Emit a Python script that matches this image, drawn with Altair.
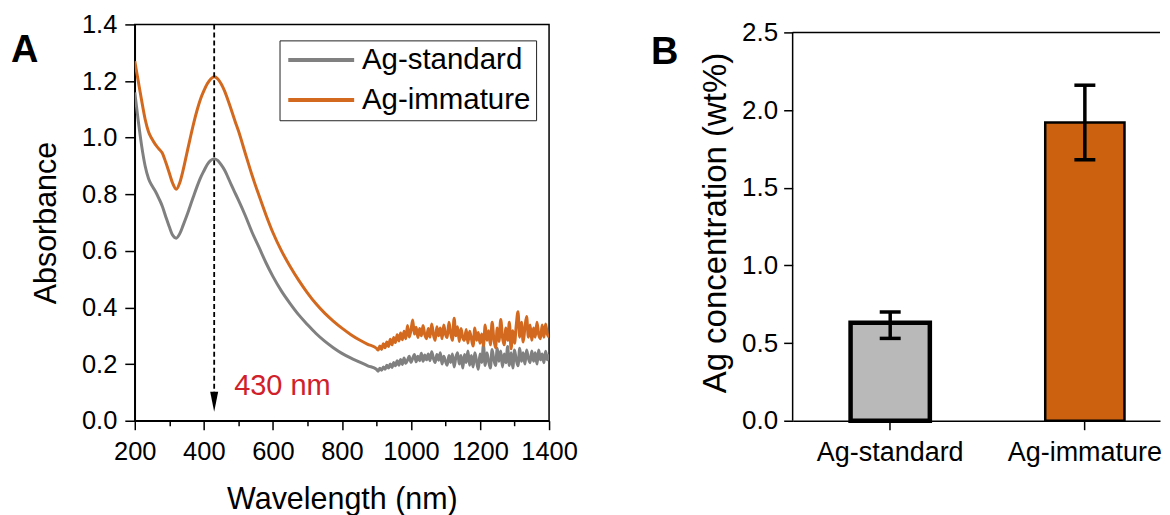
import altair as alt
import pandas as pd

FONT = "Liberation Sans"

# ---------------- Panel A data ----------------
series_names = ["Ag-standard", "Ag-immature"]
line_colors = ["#808080", "#d2691e"]

wl_smooth = [200, 210, 220, 230, 240, 250, 260, 270, 280, 290, 300, 310, 320, 330,
             340, 350, 360, 370, 380, 390, 400, 410, 420, 430, 440, 450, 460, 470,
             480, 490, 500, 520, 540, 560, 580, 600, 625, 650, 675, 700, 725, 750,
             775, 800, 825, 850, 875, 900]
std_smooth = [1.16, 1.06, 0.97, 0.90, 0.855, 0.83, 0.81, 0.785, 0.757, 0.72, 0.685,
              0.655, 0.645, 0.66, 0.69, 0.722, 0.757, 0.792, 0.826, 0.857, 0.882,
              0.905, 0.92, 0.925, 0.92, 0.905, 0.886, 0.86, 0.832, 0.806, 0.78, 0.725,
              0.665, 0.612, 0.558, 0.51, 0.458, 0.414, 0.374, 0.34, 0.308, 0.281,
              0.258, 0.238, 0.222, 0.208, 0.194, 0.182]
imm_smooth = [1.27, 1.2, 1.13, 1.065, 1.02, 0.995, 0.975, 0.96, 0.945, 0.912, 0.875,
              0.838, 0.818, 0.84, 0.885, 0.94, 0.995, 1.048, 1.095, 1.135, 1.165,
              1.19, 1.207, 1.215, 1.208, 1.19, 1.165, 1.132, 1.097, 1.06, 1.025, 0.945,
              0.866, 0.795, 0.727, 0.665, 0.6, 0.545, 0.496, 0.452, 0.413, 0.38,
              0.352, 0.327, 0.305, 0.286, 0.27, 0.256]

wl_noisy = list(range(905, 1401, 5))
std_noisy = [
    0.175, 0.185, 0.178, 0.19, 0.182, 0.196, 0.186, 0.2, 0.188, 0.206,
    0.194, 0.212, 0.196, 0.216, 0.199, 0.222, 0.203, 0.214, 0.228, 0.206,
    0.22, 0.234, 0.208, 0.228, 0.212, 0.238, 0.21, 0.232, 0.215, 0.236,
    0.212, 0.244, 0.22, 0.206, 0.234, 0.214, 0.24, 0.2, 0.228, 0.21,
    0.196, 0.23, 0.206, 0.236, 0.19, 0.224, 0.24, 0.2, 0.23, 0.186,
    0.234, 0.206, 0.246, 0.196, 0.23, 0.19, 0.24, 0.21, 0.182, 0.236,
    0.206, 0.268, 0.195, 0.24, 0.21, 0.186, 0.252, 0.216, 0.195, 0.256,
    0.21, 0.246, 0.19, 0.236, 0.205, 0.262, 0.195, 0.24, 0.186, 0.25,
    0.215, 0.194, 0.256, 0.21, 0.24, 0.2, 0.25, 0.22, 0.205, 0.246,
    0.21, 0.24, 0.2, 0.25, 0.215, 0.236, 0.205, 0.245, 0.215, 0.235]
imm_noisy = [
    0.25, 0.264, 0.252, 0.272, 0.258, 0.278, 0.262, 0.288, 0.268, 0.294,
    0.276, 0.304, 0.282, 0.31, 0.286, 0.316, 0.29, 0.336, 0.296, 0.32,
    0.356, 0.306, 0.33, 0.294, 0.326, 0.3, 0.336, 0.304, 0.29, 0.326,
    0.295, 0.342, 0.304, 0.284, 0.332, 0.3, 0.328, 0.29, 0.338, 0.305,
    0.294, 0.348, 0.31, 0.284, 0.362, 0.3, 0.332, 0.28, 0.326, 0.294,
    0.284, 0.322, 0.274, 0.316, 0.29, 0.264, 0.328, 0.284, 0.312, 0.274,
    0.306, 0.264, 0.338, 0.284, 0.318, 0.268, 0.348, 0.29, 0.258, 0.328,
    0.28, 0.358, 0.295, 0.268, 0.328, 0.284, 0.348, 0.254, 0.318, 0.274,
    0.338, 0.385, 0.295, 0.348, 0.278, 0.328, 0.368, 0.295, 0.338, 0.284,
    0.328, 0.295, 0.348, 0.304, 0.29, 0.338, 0.295, 0.342, 0.305, 0.296]

peak_nm = [430]
peak_label = ["430 nm"]

x_ticks_A = list(range(200, 1401, 100))
y_ticks_A = [round(i * 0.1, 1) for i in range(15)]

# ---------------- Panel B data ----------------
samples = ["Ag-standard", "Ag-immature"]
conc = [0.63, 1.92]
conc_lo = [0.53, 1.68]
conc_hi = [0.70, 2.16]
bar_colors = ["#b9b9b9", "#cc6210"]
y_ticks_B = [i * 0.25 for i in range(11)]

# ---------------- build tables ----------------
rows = []
for name, smooth, noisy in [(series_names[0], std_smooth, std_noisy),
                            (series_names[1], imm_smooth, imm_noisy)]:
    for w, v in zip(wl_smooth + wl_noisy, smooth + noisy):
        rows.append({"series": name, "wl": w, "abs": v})
dfA = pd.DataFrame(rows)
dfPeak = pd.DataFrame({"wl": peak_nm, "label": peak_label})
dfB = pd.DataFrame({"sample": samples, "conc": conc, "lo": conc_lo, "hi": conc_hi})

# ---------------- Panel A ----------------
xA = alt.Axis(title="Wavelength (nm)", values=x_ticks_A, format="d",
              labelExpr="datum.value % 200 == 0 ? datum.label : ''",
              tickSize={"condition": {"test": "datum.value % 200 != 0", "value": 5}, "value": 9},
              labelFontSize=25.5, titleFontSize=30.5, labelPadding=10, titlePadding=19,
              labelFlush=False, labelOverlap=False)
yA = alt.Axis(title="Absorbance", values=y_ticks_A, format=".1f",
              labelExpr="round(datum.value * 10) % 2 == 0 ? datum.label : ''",
              tickSize={"condition": {"test": "round(datum.value * 10) % 2 != 0", "value": 5}, "value": 10},
              labelFontSize=25.5, titleFontSize=30.5, labelPadding=8, titlePadding=20,
              labelFlush=False, labelOverlap=False)
xscA = alt.Scale(domain=[200, 1400], nice=False, zero=False)
yscA = alt.Scale(domain=[0, 1.4], nice=False)

lines = alt.Chart(dfA).mark_line(strokeWidth=3, interpolate="monotone", clip=True).encode(
    x=alt.X("wl:Q", scale=xscA, axis=xA),
    y=alt.Y("abs:Q", scale=yscA, axis=yA),
    color=alt.Color("series:N", sort=series_names,
                    scale=alt.Scale(domain=series_names, range=line_colors),
                    legend=alt.Legend(title=None, orient="none", legendX=145, legendY=16,
                                      direction="vertical", fillColor="white",
                                      strokeColor="#222222", padding=5,
                                      labelFont=FONT, labelFontSize=29.5, labelColor="black",
                                      symbolType="M-1,0H5", symbolSize=484,
                                      symbolStrokeWidth=4, labelOffset=48, rowPadding=9,
                                      labelLimit=400)),
)

dash = alt.Chart(dfPeak).mark_rule(strokeDash=[5, 3], strokeWidth=1.8, color="black").encode(
    x=alt.X("wl:Q", scale=xscA, axis=xA),
    y=alt.datum(1.4), y2=alt.datum(0.09),
)
head = alt.Chart(dfPeak).mark_point(shape="M-0.4,-1L0.4,-1L0,1Z", size=400, filled=True,
                                    color="black", opacity=1).encode(
    x=alt.X("wl:Q", scale=xscA, axis=xA),
    y=alt.datum(0.067),
)
ann = alt.Chart(dfPeak).mark_text(align="left", baseline="alphabetic", dx=20, font=FONT,
                                  fontSize=29, color="#d0202a").encode(
    x=alt.X("wl:Q", scale=xscA, axis=xA),
    y=alt.datum(0.092),
    text="label:N",
)
tagA = alt.Chart(pd.DataFrame({"t": ["A"]})).mark_text(
    align="left", baseline="alphabetic", font=FONT, fontSize=38, fontWeight="bold",
    color="black").encode(x=alt.value(-124), y=alt.value(38), text="t:N")

panelA = alt.layer(lines, dash, head, ann, tagA).properties(
    width=415, height=397,
    view=alt.ViewBackground(stroke="black", strokeWidth=1.5),
)

# ---------------- Panel B ----------------
yB = alt.Axis(title="Ag concentration (wt%)", values=y_ticks_B, format=".1f",
              labelExpr="round(datum.value * 4) % 2 == 0 ? datum.label : ''",
              tickSize={"condition": {"test": "round(datum.value * 4) % 2 != 0", "value": 5}, "value": 9},
              domain=False, labelFontSize=26, titleFontSize=33, labelPadding=6,
              titlePadding=9, labelFlush=False, labelOverlap=False)
yscB = alt.Scale(domain=[0, 2.5 * 397 / 389], nice=False)
xB = alt.X("sample:N", sort=samples,
           scale=alt.Scale(paddingInner=0.5928, paddingOuter=0.24, align=0.62),
           axis=alt.Axis(title=None, labelAngle=0, labelFontSize=27, tickSize=9,
                         labelPadding=10))

bars = alt.Chart(dfB).mark_bar(stroke="black").encode(
    x=xB,
    y=alt.Y("conc:Q", scale=yscB, axis=yB),
    fill=alt.Fill("sample:N", scale=alt.Scale(domain=samples, range=bar_colors), legend=None),
    strokeWidth=alt.condition(alt.datum.sample == "Ag-standard", alt.value(4.5), alt.value(2.5)),
)
err = alt.Chart(dfB).mark_rule(strokeWidth=3.5, color="black").encode(
    x=xB, y=alt.Y("lo:Q", scale=yscB, axis=yB), y2="hi:Q")
cap_hi = alt.Chart(dfB).mark_tick(thickness=3.5, size=21, color="black", opacity=1).encode(
    x=xB, y=alt.Y("hi:Q", scale=yscB, axis=yB))
cap_lo = alt.Chart(dfB).mark_tick(thickness=3.5, size=21, color="black", opacity=1).encode(
    x=xB, y=alt.Y("lo:Q", scale=yscB, axis=yB))
top_line = alt.Chart(dfB.head(1)).mark_rule(color="black", strokeWidth=1.5).encode(
    y=alt.datum(2.5))
left_line = alt.Chart(dfB.head(1)).mark_rule(color="black", strokeWidth=1.5).encode(
    x=alt.value(0), y=alt.datum(0), y2=alt.datum(2.5))
tagB = alt.Chart(pd.DataFrame({"t": ["B"]})).mark_text(
    align="left", baseline="alphabetic", font=FONT, fontSize=38, fontWeight="bold",
    color="black").encode(x=alt.value(-142), y=alt.value(40), text="t:N")

panelB = alt.layer(bars, err, cap_hi, cap_lo, top_line, left_line, tagB).properties(
    width=368, height=397,
    view=alt.ViewBackground(stroke="transparent"),
)

chart = alt.hconcat(panelA, panelB, spacing=244, bounds="flush").resolve_scale(
    color="independent", fill="independent"
).properties(
    padding={"left": 2, "top": 3, "right": 0, "bottom": 0},
).configure_axis(
    domainColor="black", domainWidth=1.5, tickColor="black", tickWidth=1.5,
    labelColor="black", titleColor="black", labelFont=FONT, titleFont=FONT,
    titleFontWeight="normal", grid=False,
).configure_text(font=FONT)

chart.save("out.html", embed_options={"renderer": "svg", "actions": False})
